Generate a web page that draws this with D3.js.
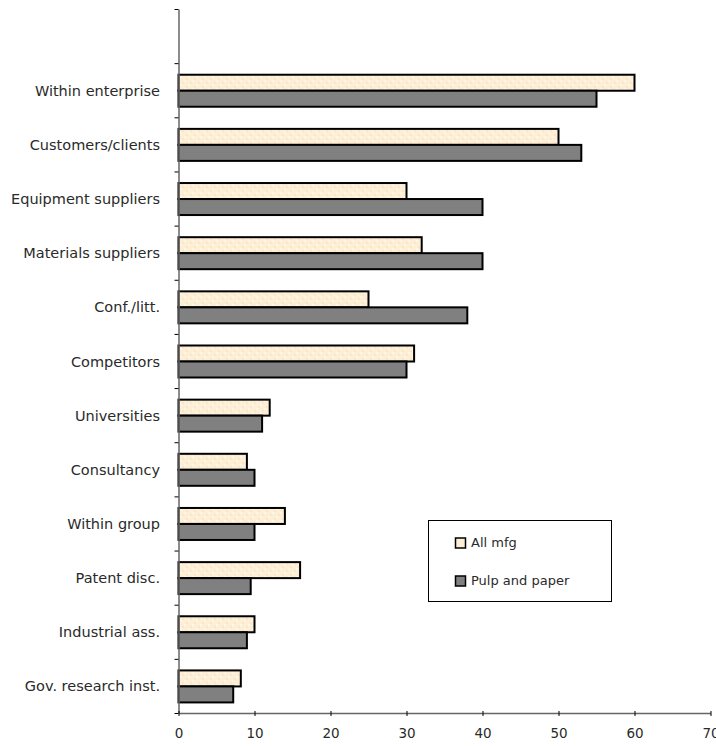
<!DOCTYPE html>
<html>
<head>
<meta charset="utf-8">
<script src="https://cdn.jsdelivr.net/npm/d3@7/dist/d3.min.js"></script>
<style>
  html, body { margin: 0; padding: 0; background: #fff; }
  svg { display: block; }
  text { font-family: "DejaVu Sans", sans-serif; fill: #2a2a2a; }
</style>
</head>
<body>
<svg id="chart" width="716" height="746"></svg>
<script>
const categories = ["Within enterprise", "Customers/clients", "Equipment suppliers", "Materials suppliers",
  "Conf./litt.", "Competitors", "Universities", "Consultancy", "Within group", "Patent disc.",
  "Industrial ass.", "Gov. research inst."];
const allMfg = [60, 50, 30, 32, 25, 31, 12, 9, 14, 16, 10, 8.2];
const pulpPaper = [55, 53, 40, 40, 38, 30, 11, 10, 10, 9.5, 9, 7.2];
const seriesNames = ["All mfg", "Pulp and paper"];
const xTicks = [0, 10, 20, 30, 40, 50, 60, 70];

const svg = d3.select("#chart");
const mLeft = 178.5, mRight = 710.5, mTop = 9, mBottom = 713;

const x = d3.scaleLinear().domain([0, 70]).range([mLeft, mRight]);
const y = d3.scaleBand().domain(["", ...categories]).range([mTop, mBottom]).paddingInner(0).paddingOuter(0);
const bw = y.bandwidth();
const barH = 16;
const offset = (bw - 2 * barH) / 2 + 0.5;

// texture pattern
const defs = svg.append("defs");
const pat = defs.append("pattern").attr("id", "cream").attr("patternUnits", "userSpaceOnUse")
  .attr("width", 8).attr("height", 8);
pat.append("rect").attr("width", 8).attr("height", 8).attr("fill", "#fdeed6");
pat.append("rect").attr("x", 0).attr("y", 0).attr("width", 2).attr("height", 2).attr("fill", "#fef6e8");
pat.append("rect").attr("x", 4).attr("y", 4).attr("width", 2).attr("height", 2).attr("fill", "#fef6e8");
pat.append("rect").attr("x", 2).attr("y", 6).attr("width", 2).attr("height", 2).attr("fill", "#fbe6c6");
pat.append("rect").attr("x", 6).attr("y", 2).attr("width", 2).attr("height", 2).attr("fill", "#fbe6c6");

const colors = ["url(#cream)", "#808080"];
const data = [allMfg, pulpPaper];

data.forEach((vals, si) => {
  svg.append("g").selectAll("rect").data(categories).join("rect")
    .attr("x", x(0))
    .attr("y", (d) => y(d) + offset + si * barH)
    .attr("width", (d, i) => x(vals[i]) - x(0))
    .attr("height", barH)
    .attr("fill", colors[si])
    .attr("stroke", "#000")
    .attr("stroke-width", 2);
});

// y axis (ticks at band boundaries)
const yIdx = d3.scaleLinear().domain([0, categories.length + 1]).range([mTop, mBottom]);
const yAxis = svg.append("g").attr("transform", `translate(${mLeft},0)`)
  .call(d3.axisLeft(yIdx).tickValues(d3.range(0, categories.length + 2)).tickFormat("").tickSize(4).tickSizeOuter(0));
yAxis.select(".domain").attr("stroke", "#666").attr("stroke-width", 1.5);
yAxis.selectAll(".tick line").attr("stroke", "#000");

// category labels
svg.append("g").selectAll("text").data(categories).join("text")
  .attr("x", 160)
  .attr("y", (d) => y(d) + bw / 2 + 1.5)
  .attr("text-anchor", "end")
  .attr("dominant-baseline", "middle")
  .attr("font-size", 14.5)
  .text((d) => d);

// x axis
const xAxis = svg.append("g").attr("transform", `translate(0,${mBottom})`)
  .call(d3.axisBottom(x).tickValues(xTicks).tickSize(3).tickSizeOuter(0).tickPadding(12));
xAxis.select(".domain").attr("stroke", "#666").attr("stroke-width", 1.5);
xAxis.selectAll(".tick line").attr("y1", -2).attr("stroke", "#000");
xAxis.selectAll(".tick text").attr("font-size", 13.5).attr("font-family", "DejaVu Sans, sans-serif").attr("fill", "#2a2a2a");

// legend
const lg = svg.append("g");
lg.append("rect").attr("x", 428.5).attr("y", 520.5).attr("width", 183).attr("height", 81)
  .attr("fill", "#fff").attr("stroke", "#000").attr("stroke-width", 1);
seriesNames.forEach((n, i) => {
  const ly = 543 + i * 38;
  lg.append("rect").attr("x", 455.5).attr("y", ly - 5).attr("width", 10).attr("height", 10)
    .attr("fill", i === 0 ? "#fdeed6" : "#808080").attr("stroke", "#000").attr("stroke-width", 1.5);
  lg.append("text").attr("x", 471).attr("y", ly).attr("dominant-baseline", "middle")
    .attr("font-size", 13).text(n);
});
</script>
</body>
</html>
